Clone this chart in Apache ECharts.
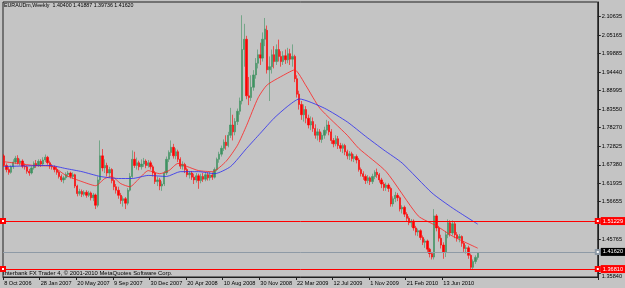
<!DOCTYPE html>
<html><head><meta charset="utf-8">
<script src="https://cdn.jsdelivr.net/npm/echarts@6/dist/echarts.min.js"></script>
<style>html,body{margin:0;padding:0;background:#c4c4c4}#c{width:625px;height:288px}</style>
</head><body><div id="c"></div>
<script>
// ---- data ----
const titleText = 'EURAUDm,Weekly  1.40400 1.41887 1.39736 1.41620';
const copyrightText = 'Interbank FX Trader 4, \u00a9 2001-2010 MetaQuotes Software Corp.';
const tickLabels = ['8 Oct 2006','28 Jan 2007','20 May 2007','9 Sep 2007','30 Dec 2007','20 Apr 2008','10 Aug 2008','30 Nov 2008','22 Mar 2009','12 Jul 2009','1 Nov 2009','21 Feb 2010','13 Jun 2010'];
const priceTicks = [2.10635,2.05165,1.99885,1.94440,1.88995,1.83550,1.78270,1.72825,1.67380,1.61935,1.56655,1.45765,1.35840];
const opens = [
1.700,1.672,1.660,1.652,1.668,1.682,1.693,1.680,1.685,1.670,
1.668,1.655,1.650,1.665,1.678,1.672,1.684,1.676,1.688,1.696,
1.680,1.670,1.668,1.660,1.652,1.640,1.630,1.636,1.646,1.650,
1.640,1.645,1.612,1.590,1.596,1.588,1.594,1.585,1.592,1.578,
1.586,1.556,1.630,1.700,1.665,1.672,1.650,1.660,1.628,1.610,
1.600,1.585,1.570,1.575,1.562,1.600,1.640,1.690,1.672,1.680,
1.668,1.676,1.685,1.672,1.680,1.668,1.650,1.625,1.630,1.612,
1.618,1.650,1.690,1.710,1.725,1.700,1.712,1.690,1.670,1.675,
1.660,1.645,1.650,1.638,1.630,1.642,1.628,1.640,1.632,1.645,
1.636,1.644,1.638,1.660,1.690,1.705,1.722,1.740,1.730,1.760,
1.790,1.770,1.800,1.830,1.860,2.010,2.040,1.875,1.870,1.900,
1.936,1.970,1.995,1.985,2.040,2.066,1.951,1.960,1.995,1.975,
2.010,1.990,1.975,1.992,1.980,1.998,1.982,1.990,1.925,1.880,
1.850,1.820,1.835,1.810,1.790,1.800,1.780,1.760,1.770,1.748,
1.760,1.775,1.790,1.770,1.745,1.735,1.750,1.730,1.722,1.730,
1.712,1.700,1.706,1.692,1.698,1.688,1.660,1.648,1.640,1.628,
1.636,1.625,1.640,1.652,1.645,1.630,1.618,1.608,1.615,1.605,
1.560,1.575,1.585,1.578,1.545,1.550,1.530,1.518,1.505,1.510,
1.490,1.478,1.482,1.462,1.448,1.452,1.428,1.415,1.405,1.525,
1.490,1.460,1.440,1.420,1.470,1.505,1.475,1.502,1.470,1.460,
1.465,1.445,1.430,1.432,1.410,1.375,1.392,1.40400];
const closes = [
1.672,1.660,1.652,1.668,1.682,1.693,1.680,1.685,1.670,1.668,
1.655,1.650,1.665,1.678,1.672,1.684,1.676,1.688,1.696,1.680,
1.670,1.668,1.660,1.652,1.640,1.630,1.636,1.646,1.650,1.640,
1.645,1.612,1.590,1.596,1.588,1.594,1.585,1.592,1.578,1.586,
1.556,1.630,1.700,1.665,1.672,1.650,1.660,1.628,1.610,1.600,
1.585,1.570,1.575,1.562,1.600,1.640,1.690,1.672,1.680,1.668,
1.676,1.685,1.672,1.680,1.668,1.650,1.625,1.630,1.612,1.618,
1.650,1.690,1.710,1.725,1.700,1.712,1.690,1.670,1.675,1.660,
1.645,1.650,1.638,1.630,1.642,1.628,1.640,1.632,1.645,1.636,
1.644,1.638,1.660,1.690,1.705,1.722,1.740,1.730,1.760,1.790,
1.770,1.800,1.830,1.860,2.010,2.040,1.875,1.870,1.900,1.936,
1.970,1.995,1.985,2.040,2.070,1.951,1.960,1.995,1.975,2.010,
1.990,1.975,1.992,1.980,1.998,1.982,1.990,1.925,1.880,1.850,
1.820,1.835,1.810,1.790,1.800,1.780,1.760,1.770,1.748,1.760,
1.775,1.790,1.770,1.745,1.735,1.750,1.730,1.722,1.730,1.712,
1.700,1.706,1.692,1.698,1.688,1.660,1.648,1.640,1.628,1.636,
1.625,1.640,1.652,1.645,1.630,1.618,1.608,1.615,1.605,1.560,
1.575,1.585,1.578,1.545,1.550,1.530,1.518,1.505,1.510,1.490,
1.478,1.482,1.462,1.448,1.452,1.428,1.415,1.405,1.525,1.490,
1.460,1.440,1.420,1.470,1.505,1.475,1.502,1.470,1.460,1.465,
1.445,1.430,1.432,1.410,1.375,1.392,1.404,1.41620];
const lows = [
1.668,1.652,1.645,1.648,1.662,1.676,1.675,1.672,1.664,1.660,
1.648,1.642,1.646,1.660,1.665,1.668,1.668,1.670,1.682,1.674,
1.662,1.660,1.652,1.645,1.634,1.624,1.620,1.630,1.638,1.634,
1.633,1.606,1.582,1.584,1.580,1.582,1.578,1.580,1.570,1.568,
1.545,1.550,1.622,1.655,1.650,1.640,1.636,1.620,1.600,1.590,
1.575,1.560,1.552,1.545,1.556,1.596,1.636,1.665,1.660,1.658,
1.660,1.668,1.664,1.666,1.660,1.640,1.618,1.612,1.600,1.598,
1.612,1.644,1.682,1.700,1.692,1.690,1.682,1.662,1.660,1.650,
1.638,1.634,1.630,1.618,1.622,1.604,1.620,1.624,1.626,1.628,
1.628,1.630,1.634,1.655,1.680,1.698,1.714,1.718,1.725,1.752,
1.745,1.760,1.790,1.820,1.850,1.960,1.865,1.848,1.860,1.890,
1.925,1.955,1.965,1.975,2.020,1.940,1.860,1.940,1.955,1.965,
1.975,1.960,1.965,1.968,1.970,1.965,1.960,1.915,1.870,1.835,
1.805,1.800,1.795,1.780,1.775,1.770,1.750,1.745,1.740,1.738,
1.750,1.765,1.760,1.735,1.725,1.728,1.720,1.712,1.708,1.702,
1.690,1.688,1.684,1.682,1.678,1.654,1.640,1.630,1.618,1.620,
1.615,1.618,1.632,1.636,1.622,1.606,1.598,1.598,1.595,1.552,
1.552,1.565,1.568,1.538,1.532,1.522,1.510,1.498,1.492,1.482,
1.468,1.466,1.455,1.440,1.432,1.420,1.404,1.398,1.398,1.480,
1.450,1.430,1.400,1.405,1.460,1.465,1.468,1.460,1.450,1.448,
1.435,1.420,1.415,1.400,1.368,1.370,1.385,1.39736];
const highs = [
1.705,1.678,1.668,1.672,1.690,1.700,1.702,1.692,1.690,1.678,
1.672,1.662,1.670,1.684,1.688,1.690,1.690,1.696,1.704,1.700,
1.686,1.676,1.672,1.668,1.656,1.646,1.642,1.652,1.656,1.654,
1.652,1.648,1.616,1.604,1.602,1.600,1.600,1.598,1.596,1.592,
1.590,1.640,1.745,1.720,1.690,1.680,1.668,1.664,1.634,1.618,
1.610,1.592,1.582,1.580,1.606,1.650,1.716,1.712,1.695,1.686,
1.690,1.694,1.690,1.688,1.686,1.674,1.656,1.640,1.636,1.626,
1.656,1.698,1.716,1.745,1.735,1.722,1.718,1.696,1.684,1.680,
1.666,1.656,1.656,1.648,1.650,1.648,1.648,1.650,1.652,1.652,
1.654,1.652,1.666,1.695,1.712,1.730,1.748,1.760,1.770,1.840,
1.820,1.810,1.838,1.870,2.110,2.085,2.050,1.930,1.935,1.950,
1.985,2.010,2.030,2.060,2.102,2.080,1.990,2.010,2.020,2.025,
2.039,2.005,2.005,2.010,2.015,2.012,2.025,1.995,1.935,1.890,
1.860,1.850,1.845,1.820,1.815,1.812,1.792,1.780,1.778,1.768,
1.785,1.805,1.801,1.778,1.752,1.760,1.758,1.738,1.736,1.735,
1.718,1.714,1.712,1.705,1.704,1.694,1.666,1.655,1.646,1.644,
1.640,1.648,1.658,1.663,1.650,1.636,1.624,1.622,1.620,1.610,
1.582,1.595,1.592,1.582,1.556,1.555,1.536,1.524,1.516,1.515,
1.496,1.488,1.486,1.468,1.458,1.456,1.432,1.420,1.545,1.530,
1.496,1.470,1.448,1.480,1.515,1.512,1.512,1.508,1.478,1.472,
1.468,1.452,1.440,1.438,1.415,1.398,1.410,1.41887];
// moving averages: [bar index, price]
const redMA = [[0,1.683],[13,1.672],[21,1.669],[27,1.643],[34,1.625],[40,1.613],[44,1.634],[47,1.640],[51,1.619],[55,1.610],[59,1.634],[63,1.657],[68,1.648],[72,1.657],[76,1.678],[80,1.669],[85,1.657],[91,1.654],[97,1.684],[102,1.731],[106,1.789],[111,1.869],[115,1.907],[124,1.942],[127,1.951],[132,1.904],[138,1.839],[150,1.760],[155,1.722],[167,1.654],[181,1.525],[189,1.496],[196,1.466],[207,1.431]];
const blueMA = [[0,1.669],[20,1.672],[27,1.663],[34,1.654],[42,1.640],[50,1.634],[56,1.634],[63,1.643],[71,1.640],[77,1.654],[85,1.654],[92,1.648],[99,1.669],[106,1.722],[112,1.766],[118,1.810],[124,1.845],[129,1.866],[140,1.839],[150,1.799],[158,1.757],[166,1.717],[174,1.679],[187,1.592],[196,1.548],[207,1.501]];
const redLevels = [1.51229, 1.36810];
const bidPrice = 1.41620;

// ---- layout ----
const SLOTS = 260;
const Y_MIN = 1.34686, Y_MAX = 2.14862;
const FONT = 'Liberation Sans';
const FS = 5.6;

const categories = [];
for (let i = 0; i < SLOTS; i++) {
  categories.push(i % 16 === 0 && i / 16 < tickLabels.length ? tickLabels[i / 16] : '');
}
const candleData = opens.map((o, i) => [o, closes[i], lows[i], highs[i]]);
const showTick = (i) => i % 16 === 0 && i / 16 < tickLabels.length;

const chart = echarts.init(document.getElementById('c'), null, {renderer: 'canvas'});
chart.setOption({
  animation: false,
  backgroundColor: '#c4c4c4',
  title: {text: titleText, left: 4, top: 3, padding: 0,
    textStyle: {fontSize: 5.3, fontWeight: 'normal', color: '#000', fontFamily: FONT}},
  graphic: [{type: 'text', left: 3, top: 270,
    style: {text: copyrightText, fontSize: 5.9, fill: '#000', fontFamily: FONT}}],
  grid: {left: 3, right: 22, top: 2, bottom: 11, show: true, borderColor: '#202020', borderWidth: 1, backgroundColor: 'transparent'},
  xAxis: {
    type: 'category', data: categories, boundaryGap: true,
    axisLine: {show: true, lineStyle: {color: '#202020', width: 1}},
    axisTick: {show: true, interval: showTick, length: 3, lineStyle: {color: '#202020'}},
    axisLabel: {interval: showTick, align: 'left', margin: 3, fontSize: FS, color: '#000', fontFamily: FONT},
    splitLine: {show: false}
  },
  yAxis: {
    type: 'value', position: 'right', min: Y_MIN, max: Y_MAX, scale: true,
    axisLine: {show: true, lineStyle: {color: '#202020', width: 1}},
    axisTick: {show: true, customValues: priceTicks, length: 3, lineStyle: {color: '#202020'}},
    axisLabel: {customValues: priceTicks, margin: 4, fontSize: FS, color: '#000', fontFamily: FONT,
      formatter: (v) => v < 1.36 ? '{b|' + v.toFixed(5) + '}' : v.toFixed(5),
      rich: {b: {fontSize: FS, fontFamily: FONT, color: '#000', padding: [6, 0, 0, 0]}}},
    splitLine: {show: false}
  },
  series: [
    {
      type: 'candlestick', data: candleData, barWidth: 1.8,
      itemStyle: {color: '#3f9262', color0: '#ff0000', borderColor: '#3f9262', borderColor0: '#ff0000', borderWidth: 0.6},
      markLine: {
        silent: true, symbol: ['emptyRect', 'emptyRect'], symbolSize: 4, animation: false,
        data: redLevels.map(v => ({
          yAxis: v, lineStyle: {color: '#ff0000', width: 1, type: 'solid'},
          label: {show: true, position: 'end', formatter: v.toFixed(5), color: '#fff', backgroundColor: '#ff0000',
            padding: [1, 2, 1, 2], fontSize: FS, fontFamily: FONT, distance: 3}
        })).concat([{
          yAxis: bidPrice, symbol: 'none', lineStyle: {color: '#8e9aa6', width: 1, type: 'solid'},
          label: {show: true, position: 'end', formatter: bidPrice.toFixed(5), color: '#fff', backgroundColor: '#000',
            padding: [1, 2, 1, 2], fontSize: FS, fontFamily: FONT, distance: 3}
        }])
      }
    },
    {type: 'line', data: redMA, smooth: 0.2, symbol: 'none', lineStyle: {color: '#ff2020', width: 0.8}, z: 3},
    {type: 'line', data: blueMA, smooth: 0.2, symbol: 'none', lineStyle: {color: '#2a2af0', width: 0.8}, z: 3}
  ]
});
</script></body></html>
